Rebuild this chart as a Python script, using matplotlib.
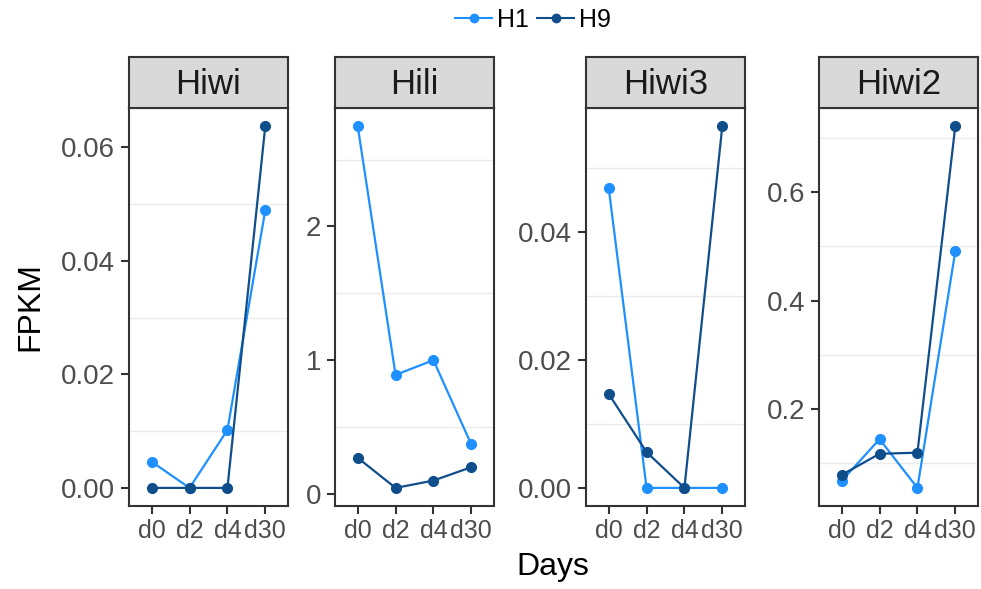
import numpy as np
import matplotlib
matplotlib.use('Agg')
import matplotlib.pyplot as plt
from matplotlib.ticker import FixedLocator

plt.rcParams['font.family'] = ['Liberation Sans', 'DejaVu Sans']

# data
days = ['d0', 'd2', 'd4', 'd30']
genes = ['Hiwi', 'Hili', 'Hiwi3', 'Hiwi2']
h1 = {
    'Hiwi': [0.0046, 0.0, 0.0102, 0.0489],
    'Hili': [2.75, 0.89, 1.0, 0.37],
    'Hiwi3': [0.0469, 0.0, 0.0, 0.0],
    'Hiwi2': [0.067, 0.144, 0.054, 0.491],
}
h9 = {
    'Hiwi': [0.0, 0.0, 0.0, 0.0637],
    'Hili': [0.27, 0.045, 0.10, 0.20],
    'Hiwi3': [0.0147, 0.0056, 0.0, 0.0566],
    'Hiwi2': [0.078, 0.117, 0.119, 0.722],
}
major_ticks = {
    'Hiwi': [0.0, 0.02, 0.04, 0.06],
    'Hili': [0, 1, 2],
    'Hiwi3': [0.0, 0.02, 0.04],
    'Hiwi2': [0.2, 0.4, 0.6],
}
minor_ticks = {
    'Hiwi': [0.01, 0.03, 0.05],
    'Hili': [0.5, 1.5, 2.5],
    'Hiwi3': [0.01, 0.03, 0.05],
    'Hiwi2': [0.1, 0.3, 0.5, 0.7],
}
tick_fmt = {'Hiwi': '{:.2f}', 'Hili': '{:.0f}', 'Hiwi3': '{:.2f}', 'Hiwi2': '{:.1f}'}

c_h1 = '#1E90FF'
c_h9 = '#104E8B'
dark = '#333333'

W, H = 981, 589
fig = plt.figure(figsize=(W / 100, H / 100), dpi=100)

lefts = [129, 335, 586, 819]
pw = 159
top, bottom = 108, 506
strip_top = 57

x = np.arange(len(days))
for g, lp in zip(genes, lefts):
    ax = fig.add_axes([lp / W, (H - bottom) / H, pw / W, (bottom - top) / H])
    ax.plot(x, h1[g], color=c_h1, lw=1.6, marker='o', ms=7, zorder=3)
    ax.plot(x, h9[g], color=c_h9, lw=1.6, marker='o', ms=7, zorder=3)
    ax.set_xlim(-0.6, 3.6)
    vals = h1[g] + h9[g]
    lo, hi = min(vals), max(vals)
    pad = (hi - lo) * 0.05
    ax.set_ylim(lo - pad, hi + pad)
    ax.set_xticks(x)
    ax.set_xticklabels(days)
    ax.set_yticks(major_ticks[g])
    ax.set_yticklabels([tick_fmt[g].format(v) for v in major_ticks[g]])
    ax.yaxis.set_minor_locator(FixedLocator(minor_ticks[g]))
    ax.grid(which='minor', axis='y', color='#EBEBEB', lw=1.0)
    ax.tick_params(which='minor', length=0)
    ax.tick_params(which='major', length=6, width=1.5, color=dark,
                   labelcolor='#4D4D4D', pad=3)
    ax.tick_params(axis='x', labelsize=18)
    ax.tick_params(axis='y', labelsize=20, pad=4)
    for s in ax.spines.values():
        s.set_color(dark)
        s.set_linewidth(1.5)
    ax.set_axisbelow(True)

    sax = fig.add_axes([lp / W, (H - top) / H, pw / W, (top - strip_top) / H])
    sax.set_facecolor('#D9D9D9')
    sax.set_xticks([])
    sax.set_yticks([])
    for s in sax.spines.values():
        s.set_color(dark)
        s.set_linewidth(1.5)
    sax.text(0.5, 0.47, g, ha='center', va='center', fontsize=25,
             color='#1A1A1A', transform=sax.transAxes)

fig.text(30 / W, 1 - 307 / H, 'FPKM', rotation=90, ha='center', va='center',
         fontsize=23)
fig.text(553 / W, 1 - 567 / H, 'Days', ha='center', va='center', fontsize=23)

handles = [plt.Line2D([], [], color=c_h1, lw=1.5, marker='o', ms=6),
           plt.Line2D([], [], color=c_h9, lw=1.5, marker='o', ms=6)]
fig.legend(handles, ['H1', 'H9'], loc='center', bbox_to_anchor=(533 / W, 1 - 20 / H),
           ncol=2, frameon=False, fontsize=18, handlelength=1.5,
           handletextpad=0.2, columnspacing=0.3, borderaxespad=0)

fig.savefig('out.png', dpi=100)
